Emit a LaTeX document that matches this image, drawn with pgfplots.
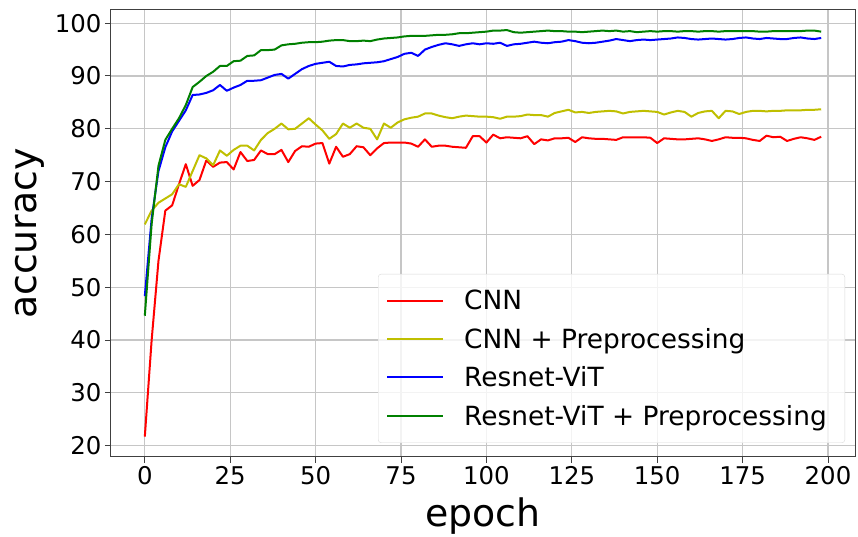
\documentclass[border=0pt]{standalone}
\usepackage{pgfplots}
\pgfplotsset{compat=1.18}
\usepackage{fontspec}
\setmainfont{DejaVu Sans}
\definecolor{myred}{RGB}{255,0,0}
\definecolor{myyel}{RGB}{191,191,0}
\definecolor{myblue}{RGB}{0,0,255}
\definecolor{mygreen}{RGB}{0,128,0}
\begin{document}
\begin{tikzpicture}
\begin{axis}[
  scale only axis,
  width=744bp, height=447bp,
  xmin=-9.9, xmax=207.9, ymin=17.85, ymax=102.5,
  xtick={0,25,...,200}, ytick={20,30,...,100},
  grid=major,
  grid style={gray!45, line width=1.2bp},
  axis line style={black!75, line width=1bp},
  tick style={black!75, line width=1bp},
  tick align=outside,
  major tick length=6bp,
  xtick pos=bottom, ytick pos=left,
  /pgf/number format/assume math mode=true,
  ticklabel style={font=\fontsize{24.5}{29}\selectfont},
  xlabel={epoch}, ylabel={accuracy},
  label style={font=\fontsize{38}{46}\selectfont},
  xlabel style={at={(axis description cs:0.5,-0.1566)}, anchor=base},
  ylabel style={at={(axis description cs:-0.1089,0.5)}, anchor=center},
  legend image code/.code={\draw[#1] (0bp,0bp) -- (56bp,0bp);},
  legend cell align=left,
  legend style={at={(1,0)}, anchor=south east, xshift=-10bp, yshift=14bp,
    draw=gray!30, rounded corners=3bp, fill=white, fill opacity=0.8, text opacity=1,
    font=\fontsize{26.5}{32}\selectfont, row sep=13bp, inner xsep=8bp, inner ysep=14bp,
    nodes={inner xsep=10bp},
    /tikz/every odd column/.append style={column sep=10bp}},
  every axis plot/.append style={line width=2bp, line join=round},
]
\addplot[myred] coordinates {
(0,21.7)(2,40)(4,55)(6,64.5)(8,65.5)(10,69.5)(12,73.3)(14,69.2)(16,70.3)(18,74)
(20,72.8)(22,73.6)(24,73.7)(26,72.3)(28,75.6)(30,73.9)(32,74.1)(34,75.9)(36,75.2)(38,75.2)
(40,76)(42,73.7)(44,75.8)(46,76.7)(48,76.6)(50,77.2)(52,77.3)(54,73.4)(56,76.6)(58,74.7)
(60,75.2)(62,76.7)(64,76.5)(66,75)(68,76.3)(70,77.3)(72,77.4)(74,77.4)(76,77.4)(78,77.2)
(80,76.6)(82,78)(84,76.6)(86,76.8)(88,76.8)(90,76.6)(92,76.5)(94,76.4)(96,78.6)(98,78.6)
(100,77.4)(102,78.9)(104,78.2)(106,78.4)(108,78.3)(110,78.2)(112,78.6)(114,77.1)(116,78)(118,77.8)
(120,78.2)(122,78.2)(124,78.3)(126,77.5)(128,78.4)(130,78.2)(132,78.1)(134,78.1)(136,78)(138,77.9)
(140,78.4)(142,78.4)(144,78.4)(146,78.4)(148,78.3)(150,77.3)(152,78.2)(154,78.1)(156,78)(158,78)
(160,78.1)(162,78.2)(164,78)(166,77.7)(168,78)(170,78.4)(172,78.3)(174,78.3)(176,78.2)(178,77.9)
(180,77.7)(182,78.7)(184,78.4)(186,78.5)(188,77.7)(190,78.1)(192,78.4)(194,78.2)(196,77.9)(198,78.5)
};
\addlegendentry{CNN}
\addplot[myyel] coordinates {
(0,61.9)(2,64.5)(4,66)(6,66.8)(8,67.6)(10,69.5)(12,69)(14,72)(16,75)(18,74.4)
(20,73.1)(22,75.9)(24,74.9)(26,76)(28,76.8)(30,76.8)(32,75.9)(34,77.9)(36,79.2)(38,80)
(40,81)(42,79.9)(44,80)(46,81)(48,82)(50,80.8)(52,79.7)(54,78.1)(56,79)(58,81)
(60,80.2)(62,81)(64,80.2)(66,80)(68,78)(70,81)(72,80.2)(74,81.2)(76,81.8)(78,82.1)
(80,82.3)(82,82.9)(84,82.9)(86,82.5)(88,82.2)(90,82)(92,82.3)(94,82.5)(96,82.4)(98,82.3)
(100,82.3)(102,82.2)(104,81.9)(106,82.3)(108,82.3)(110,82.4)(112,82.7)(114,82.6)(116,82.6)(118,82.3)
(120,83)(122,83.3)(124,83.6)(126,83.1)(128,83.2)(130,83)(132,83.2)(134,83.3)(136,83.4)(138,83.3)
(140,82.9)(142,83.2)(144,83.3)(146,83.4)(148,83.3)(150,83.2)(152,82.7)(154,83.1)(156,83.4)(158,83.2)
(160,82.3)(162,83)(164,83.3)(166,83.4)(168,82)(170,83.4)(172,83.3)(174,82.8)(176,83.2)(178,83.4)
(180,83.4)(182,83.3)(184,83.4)(186,83.4)(188,83.5)(190,83.5)(192,83.5)(194,83.6)(196,83.6)(198,83.7)
};
\addlegendentry{CNN + Preprocessing}
\addplot[myblue] coordinates {
(0,48.3)(2,63)(4,72)(6,76.5)(8,79.5)(10,81.5)(12,83.5)(14,86.4)(16,86.5)(18,86.8)
(20,87.3)(22,88.3)(24,87.2)(26,87.8)(28,88.3)(30,89.1)(32,89.1)(34,89.2)(36,89.7)(38,90.2)
(40,90.4)(42,89.5)(44,90.4)(46,91.3)(48,91.9)(50,92.3)(52,92.5)(54,92.7)(56,91.9)(58,91.8)
(60,92.1)(62,92.2)(64,92.4)(66,92.5)(68,92.6)(70,92.8)(72,93.2)(74,93.6)(76,94.2)(78,94.4)
(80,93.8)(82,95)(84,95.5)(86,95.9)(88,96.2)(90,96)(92,95.7)(94,96)(96,96.2)(98,96)
(100,96.2)(102,96.1)(104,96.3)(106,95.7)(108,96)(110,96.1)(112,96.3)(114,96.5)(116,96.3)(118,96.2)
(120,96.4)(122,96.5)(124,96.8)(126,96.6)(128,96.3)(130,96.2)(132,96.3)(134,96.5)(136,96.7)(138,97)
(140,96.8)(142,96.6)(144,96.8)(146,96.9)(148,96.8)(150,96.9)(152,97)(154,97.1)(156,97.3)(158,97.2)
(160,97)(162,96.9)(164,97)(166,97.1)(168,97)(170,96.9)(172,97)(174,97.2)(176,97.3)(178,97.1)
(180,97)(182,97.2)(184,97.1)(186,97)(188,97)(190,97.2)(192,97.3)(194,97.1)(196,97)(198,97.2)
};
\addlegendentry{Resnet-ViT}
\addplot[mygreen] coordinates {
(0,44.6)(2,62)(4,73)(6,77.9)(8,80)(10,82)(12,84.5)(14,87.9)(16,88.9)(18,90)
(20,90.8)(22,91.9)(24,91.9)(26,92.8)(28,92.9)(30,93.8)(32,93.9)(34,94.9)(36,94.9)(38,95)
(40,95.8)(42,96)(44,96.1)(46,96.3)(48,96.4)(50,96.4)(52,96.5)(54,96.7)(56,96.8)(58,96.8)
(60,96.6)(62,96.6)(64,96.7)(66,96.6)(68,96.9)(70,97.1)(72,97.2)(74,97.3)(76,97.5)(78,97.6)
(80,97.6)(82,97.6)(84,97.7)(86,97.8)(88,97.8)(90,97.9)(92,98.1)(94,98.1)(96,98.2)(98,98.3)
(100,98.4)(102,98.6)(104,98.6)(106,98.7)(108,98.3)(110,98.2)(112,98.3)(114,98.4)(116,98.5)(118,98.6)
(120,98.5)(122,98.5)(124,98.4)(126,98.4)(128,98.3)(130,98.4)(132,98.5)(134,98.6)(136,98.5)(138,98.6)
(140,98.4)(142,98.5)(144,98.3)(146,98.4)(148,98.5)(150,98.4)(152,98.5)(154,98.5)(156,98.4)(158,98.5)
(160,98.5)(162,98.4)(164,98.5)(166,98.5)(168,98.4)(170,98.5)(172,98.5)(174,98.5)(176,98.5)(178,98.5)
(180,98.4)(182,98.4)(184,98.5)(186,98.5)(188,98.5)(190,98.5)(192,98.5)(194,98.6)(196,98.6)(198,98.4)
};
\addlegendentry{Resnet-ViT + Preprocessing}
\end{axis}
\pgfresetboundingbox
\path[use as bounding box] ([xshift=-111bp,yshift=-80bp]current axis.south west) rectangle ([xshift=3bp,yshift=10bp]current axis.north east);
\end{tikzpicture}
\end{document}
